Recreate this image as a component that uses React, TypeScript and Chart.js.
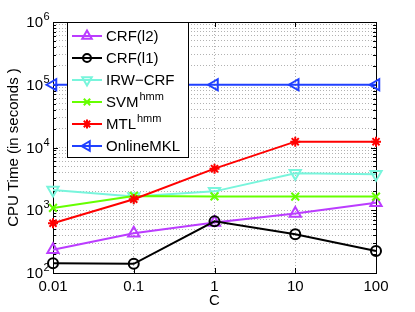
import React, { useEffect, useRef } from "react";
import { Chart, registerables } from "chart.js";
import { drawPoint } from "chart.js/helpers";

Chart.register(...registerables);

const categories = ["0.01", "0.1", "1", "10", "100"];
const crfL2 = [235, 430, 640, 890, 1320];
const crfL1 = [143, 140, 665, 414, 224];
const irwCrf = [2100, 1650, 2000, 3900, 3750];
const svmHmm = [1090, 1690, 1660, 1650, 1650];
const mtlHmm = [620, 1500, 4600, 12400, 12400];
const onlineMkl = [100000, 100000, 100000, 100000, 100000];
const yDecadeExponents = [2, 3, 4, 5, 6];
const legendNames = ["CRF(l2)", "CRF(l1)", "IRW\u2212CRF", "SVM", "MTL", "OnlineMKL"];
const legendSups = ["", "", "", "hmm", "hmm", ""];

const FONT = "'Liberation Sans', Arial, Helvetica, sans-serif";

const series = [
  { data: crfL2, color: "#bb3cff", style: "triangle", rot: 0, r: 6.5, lr: 5.5 },
  { data: crfL1, color: "#000000", style: "circle", rot: 0, r: 5, lr: 4 },
  { data: irwCrf, color: "#78f5dc", style: "triangle", rot: 180, r: 6.5, lr: 5.5 },
  { data: svmHmm, color: "#66ff00", style: "crossRot", rot: 0, r: 5.5, lr: 4.5 },
  { data: mtlHmm, color: "#ff0000", style: "star", rot: 0, r: 5, lr: 4.5 },
  { data: onlineMkl, color: "#2040ff", style: "triangle", rot: 270, r: 6.5, lr: 5.5 },
];

const decorPlugin = {
  id: "decor",
  beforeDatasetsDraw(chart: any) {
    const { ctx, chartArea: a, scales } = chart;
    const y = scales.y;
    const x = scales.x;
    ctx.save();
    ctx.strokeStyle = "#000";
    ctx.lineWidth = 1;
    ctx.beginPath();
    y.ticks.forEach((t: any) => {
      const v = t.value;
      const e = Math.log10(v);
      const major = Math.abs(e - Math.round(e)) < 1e-9;
      const len = major ? 5 : 3;
      const py = Math.round(y.getPixelForValue(v)) + 0.5;
      ctx.moveTo(a.left, py);
      ctx.lineTo(a.left + len, py);
      ctx.moveTo(a.right, py);
      ctx.lineTo(a.right - len, py);
    });
    categories.forEach((_, i) => {
      const px = Math.round(x.getPixelForValue(i)) + 0.5;
      ctx.moveTo(px, a.bottom);
      ctx.lineTo(px, a.bottom - 5);
      ctx.moveTo(px, a.top);
      ctx.lineTo(px, a.top + 5);
    });
    ctx.stroke();
    ctx.strokeRect(Math.round(a.left) + 0.5, Math.round(a.top) + 0.5, Math.round(a.right - a.left), Math.round(a.bottom - a.top));
    ctx.restore();
  },
  afterDraw(chart: any) {
    const { ctx, chartArea: a, scales } = chart;
    const y = scales.y;
    ctx.save();
    ctx.fillStyle = "#000";
    yDecadeExponents.forEach((e) => {
      const py = y.getPixelForValue(Math.pow(10, e));
      ctx.font = `15px ${FONT}`;
      ctx.textAlign = "right";
      ctx.textBaseline = "middle";
      ctx.fillText("10", 43, py + 1);
      ctx.font = `11px ${FONT}`;
      ctx.textAlign = "left";
      ctx.fillText(String(e), 43.5, py - 5);
    });
    ctx.save();
    ctx.translate(14, (a.top + a.bottom) / 2);
    ctx.rotate(-Math.PI / 2);
    ctx.font = `15px ${FONT}`;
    ctx.textAlign = "center";
    ctx.textBaseline = "middle";
    ctx.fillText("CPU Time (in seconds )", 0, 0);
    ctx.restore();
    ctx.font = `15px ${FONT}`;
    ctx.textAlign = "center";
    ctx.textBaseline = "middle";
    ctx.fillText("C", (a.left + a.right) / 2, 301);
    const bx = 67.5, by = 22.5, bw = 121, bh = 135;
    ctx.fillStyle = "#fff";
    ctx.fillRect(bx, by, bw, bh);
    ctx.strokeStyle = "#000";
    ctx.lineWidth = 1;
    ctx.strokeRect(bx, by, bw, bh);
    series.forEach((s, i) => {
      const ly = 36 + i * 22;
      ctx.strokeStyle = s.color;
      ctx.lineWidth = 2;
      ctx.beginPath();
      ctx.moveTo(72, ly);
      ctx.lineTo(102, ly);
      ctx.stroke();
      ctx.fillStyle = "rgba(0,0,0,0)";
      drawPoint(ctx, { pointStyle: s.style, rotation: s.rot, radius: s.lr, borderWidth: 2 } as any, 87, ly);
      ctx.fillStyle = "#000";
      ctx.font = `15px ${FONT}`;
      ctx.textAlign = "left";
      ctx.textBaseline = "middle";
      ctx.fillText(legendNames[i], 106, ly + 1);
      if (legendSups[i]) {
        const w = ctx.measureText(legendNames[i]).width;
        ctx.font = `11px ${FONT}`;
        ctx.fillText(legendSups[i], 106 + w + 1, ly - 5);
      }
    });
    ctx.restore();
  },
};

export default function App() {
  const ref = useRef<HTMLCanvasElement | null>(null);
  useEffect(() => {
    if (!ref.current) return;
    const chart = new Chart(ref.current, {
      type: "line",
      data: {
        labels: categories,
        datasets: series.map((s, i) => ({
          label: legendNames[i],
          data: s.data,
          borderColor: s.color,
          backgroundColor: "rgba(0,0,0,0)",
          borderWidth: 2,
          pointStyle: s.style as any,
          pointRotation: s.rot,
          pointRadius: s.r,
          pointBorderWidth: 2,
          pointBorderColor: s.color,
          pointBackgroundColor: "rgba(0,0,0,0)",
          tension: 0,
          clip: false as any,
          order: series.length - i,
        })),
      },
      options: {
        animation: false,
        responsive: true,
        maintainAspectRatio: false,
        layout: { padding: { top: 22, right: 39, left: 0, bottom: 0 } },
        plugins: { legend: { display: false }, tooltip: { enabled: false } },
        events: [],
        scales: {
          x: {
            type: "category",
            offset: false,
            grid: { color: "rgba(0,0,0,0.3)", drawTicks: false, lineWidth: 1 },
            border: { display: false, dash: [1, 2] },
            ticks: { color: "#000", font: { family: FONT, size: 15 }, padding: 5, maxRotation: 0 },
            afterFit: (s: any) => { s.height = 39; },
          },
          y: {
            type: "logarithmic",
            min: 100,
            max: 1000000,
            grid: { color: "rgba(0,0,0,0.3)", drawTicks: false, lineWidth: 1 },
            border: { display: false, dash: [1, 2] },
            ticks: { display: false, autoSkip: false },
            afterBuildTicks: (s: any) => {
              s.ticks = s.ticks.filter((t: any) => {
                const m = t.value / Math.pow(10, Math.floor(Math.log10(t.value) + 1e-9));
                return Math.abs(m - 1.5) > 1e-6;
              });
            },
            afterFit: (s: any) => { s.width = 53; },
          },
        },
      },
      plugins: [decorPlugin],
    });
    return () => chart.destroy();
  }, []);
  return (
    <div style={{ position: "fixed", left: 0, top: 0, width: 415, height: 312, background: "#fff" }}>
      <canvas ref={ref} />
    </div>
  );
}
